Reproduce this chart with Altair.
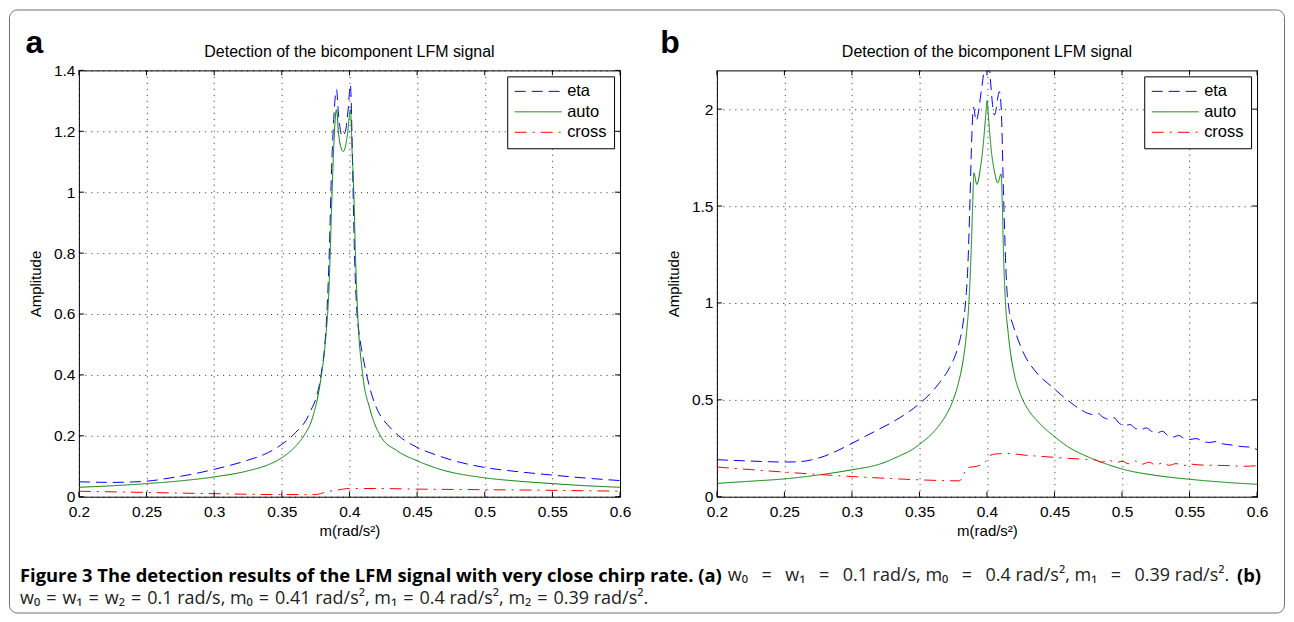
import altair as alt
import pandas as pd

# ---------------- data ----------------
SERIES = ["eta", "auto", "cross"]
COLORS = ["#0000ff", "#008000", "#ff0000"]
DASHES = [[11, 6], [1, 0], [12, 6, 2, 6]]

X_TICKS = [0.2, 0.25, 0.3, 0.35, 0.4, 0.45, 0.5, 0.55, 0.6]
A_Y_TICKS = [0, 0.2, 0.4, 0.6, 0.8, 1.0, 1.2, 1.4]
B_Y_TICKS = [0, 0.5, 1.0, 1.5, 2.0]

# panel a
a_eta_m = [0.20, 0.225, 0.25, 0.268, 0.285, 0.30, 0.3227, 0.34, 0.35, 0.36, 0.37, 0.3786, 0.3835,
           0.3852, 0.3866, 0.3885, 0.3904, 0.392, 0.3946, 0.397, 0.399, 0.4007, 0.4018, 0.4027,
           0.4037, 0.4056, 0.4069, 0.4087, 0.4115, 0.4143, 0.4192, 0.4235, 0.4278, 0.4364, 0.45,
           0.4635, 0.475, 0.50, 0.525, 0.55, 0.575, 0.60]
a_eta_v = [0.049, 0.047, 0.051, 0.062, 0.075, 0.090, 0.117, 0.145, 0.172, 0.210, 0.270, 0.390, 0.620,
           0.820, 1.050, 1.250, 1.337, 1.250, 1.184, 1.200, 1.270, 1.353, 1.200, 1.000,
           0.800, 0.600, 0.544, 0.490, 0.425, 0.370, 0.300, 0.262, 0.238, 0.200, 0.162,
           0.138, 0.121, 0.096, 0.082, 0.071, 0.061, 0.053]

a_auto_m = [0.20, 0.225, 0.25, 0.275, 0.30, 0.325, 0.34, 0.35, 0.36, 0.367, 0.372, 0.3786, 0.3820,
            0.3850, 0.3868, 0.3882, 0.3904, 0.392, 0.3935, 0.3954, 0.397, 0.3985, 0.4007, 0.4020,
            0.4032, 0.4044, 0.4061, 0.4098, 0.415, 0.4229, 0.4352, 0.45, 0.467, 0.50, 0.525,
            0.55, 0.575, 0.60]
a_auto_v = [0.031, 0.036, 0.043, 0.052, 0.065, 0.085, 0.105, 0.128, 0.165, 0.205, 0.250, 0.380, 0.500,
            0.700, 0.950, 1.130, 1.271, 1.190, 1.150, 1.134, 1.150, 1.190, 1.271, 1.130,
            1.000, 0.800, 0.600, 0.400, 0.290, 0.200, 0.151, 0.118, 0.090, 0.062, 0.051,
            0.043, 0.036, 0.031]

a_cross_m = [0.20, 0.25, 0.30, 0.35, 0.375, 0.380, 0.385, 0.39, 0.40, 0.42, 0.45, 0.50, 0.55, 0.60]
a_cross_v = [0.018, 0.014, 0.010, 0.007, 0.007, 0.012, 0.018, 0.021, 0.027, 0.027, 0.025, 0.023,
             0.021, 0.018]

# panel b
b_eta_m = [0.20, 0.225, 0.25, 0.26, 0.27, 0.28, 0.29, 0.30, 0.31, 0.32, 0.33, 0.34, 0.35, 0.3563,
           0.3649, 0.3723, 0.3784, 0.3817, 0.3841, 0.3858, 0.3871, 0.3885, 0.3900, 0.3920,
           0.3957, 0.3980, 0.4000, 0.4019, 0.4056, 0.4092, 0.4105, 0.4125, 0.4145, 0.4165,
           0.4191, 0.4216, 0.425, 0.429, 0.435, 0.44, 0.445, 0.45, 0.455, 0.46, 0.465, 0.47,
           0.478, 0.482, 0.486, 0.490, 0.494, 0.498, 0.502, 0.506, 0.510, 0.514, 0.518, 0.522,
           0.526, 0.530, 0.534, 0.538, 0.542, 0.546, 0.550, 0.555, 0.560, 0.565, 0.570, 0.575,
           0.580, 0.585, 0.590, 0.595, 0.600]
b_eta_v = [0.191, 0.184, 0.179, 0.180, 0.190, 0.210, 0.240, 0.275, 0.312, 0.348, 0.385, 0.428, 0.480,
           0.520, 0.589, 0.666, 0.769, 0.870, 1.000, 1.181, 1.450, 1.800, 2.010, 1.940,
           2.090, 2.220, 2.400, 2.210, 1.970, 2.090, 2.010, 1.500, 1.100, 0.960,
           0.890, 0.838, 0.775, 0.715, 0.655, 0.615, 0.585, 0.556, 0.525, 0.497, 0.470, 0.447,
           0.425, 0.430, 0.410, 0.400, 0.408, 0.378, 0.368, 0.372, 0.352, 0.347, 0.355, 0.337,
           0.330, 0.338, 0.315, 0.308, 0.316, 0.300, 0.295, 0.300, 0.285, 0.280, 0.285, 0.272,
           0.268, 0.262, 0.258, 0.256, 0.243]

b_auto_m = [0.20, 0.225, 0.25, 0.275, 0.30, 0.3205, 0.3353, 0.345, 0.35, 0.355, 0.36, 0.365, 0.370,
            0.375, 0.379, 0.382, 0.3845, 0.3866, 0.3883, 0.3895, 0.3903, 0.3925, 0.3950, 0.3970,
            0.3990, 0.4001, 0.4012, 0.4030, 0.4055, 0.4080, 0.4105, 0.4113, 0.4122, 0.4137,
            0.4155, 0.4171, 0.4200, 0.4253, 0.4300, 0.4388, 0.45, 0.46, 0.475, 0.49, 0.50,
            0.525, 0.55, 0.575, 0.60]
b_auto_v = [0.069, 0.080, 0.092, 0.112, 0.139, 0.168, 0.211, 0.245, 0.270, 0.298, 0.330, 0.372, 0.425,
            0.500, 0.590, 0.690, 0.820, 1.000, 1.267, 1.525, 1.671, 1.611, 1.690, 1.800,
            1.960, 2.044, 1.950, 1.800, 1.680, 1.619, 1.666, 1.525, 1.267, 1.000,
            0.860, 0.760, 0.640, 0.520, 0.455, 0.380, 0.310, 0.258, 0.205, 0.165, 0.143,
            0.110, 0.090, 0.075, 0.064]

b_cross_m = [0.20, 0.25, 0.275, 0.30, 0.325, 0.35, 0.3797, 0.383, 0.386, 0.392, 0.3994, 0.4018,
             0.4056, 0.4141, 0.429, 0.45, 0.47, 0.480, 0.485, 0.490, 0.495, 0.500, 0.505, 0.510,
             0.515, 0.520, 0.525, 0.530, 0.535, 0.540, 0.545, 0.550, 0.560, 0.570, 0.580, 0.590,
             0.600]
b_cross_v = [0.153, 0.127, 0.115, 0.104, 0.095, 0.087, 0.082, 0.120, 0.151, 0.156, 0.185, 0.210,
             0.220, 0.223, 0.214, 0.203, 0.194, 0.190, 0.178, 0.190, 0.176, 0.183, 0.170, 0.184,
             0.168, 0.178, 0.164, 0.174, 0.162, 0.171, 0.160, 0.168, 0.163, 0.162, 0.160, 0.157,
             0.160]

TITLE = "Detection of the bicomponent LFM signal"
XTITLE = "m(rad/s\u00b2)"
YTITLE = "Amplitude"
EQ1 = "\u2002\u2005=\u2002\u2005"
EQ2 = "\u2004=\u2004"
CAP_BOLD = "Figure 3 The detection results of the LFM signal with very close chirp rate. (a)"
CAP_A = ("w\u2080" + EQ1 + "w\u2081" + EQ1 + "0.1 rad/s, m\u2080" + EQ1 + "0.4 rad/s\u00b2, m\u2081"
         + EQ1 + "0.39 rad/s\u00b2.")
CAP_B_LABEL = "(b)"
CAP_LINE2 = ("w\u2080" + EQ2 + "w\u2081" + EQ2 + "w\u2082" + EQ2 + "0.1 rad/s, m\u2080" + EQ2
             + "0.41 rad/s\u00b2, m\u2081" + EQ2 + "0.4 rad/s\u00b2, m\u2082" + EQ2 + "0.39 rad/s\u00b2.")


def frame(pairs):
    rows = []
    for name, xs, ys in pairs:
        for m, v in zip(xs, ys):
            rows.append({"series": name, "m": m, "amp": v})
    return pd.DataFrame(rows)


df_a = frame([("eta", a_eta_m, a_eta_v), ("auto", a_auto_m, a_auto_v), ("cross", a_cross_m, a_cross_v)])
df_b = frame([("eta", b_eta_m, b_eta_v), ("auto", b_auto_m, b_auto_v), ("cross", b_cross_m, b_cross_v)])

FONT = "Liberation Sans, Arial, Helvetica, sans-serif"
CAP_FONT = "Open Sans, sans-serif"
W_A, W_B, H = 542, 541, 427
ONE = pd.DataFrame({"k": [0]})


def deco_text(txt, x, y, size, weight="normal", font=FONT, align="left", baseline="alphabetic", color="black"):
    return alt.Chart(ONE).mark_text(
        text=txt, font=font, fontSize=size, fontWeight=weight, align=align,
        baseline=baseline, color=color
    ).encode(x=alt.value(x), y=alt.value(y))


def panel(df, yticks, ydom, width, below, above):
    xenc = alt.X("m:Q", scale=alt.Scale(domain=[0.2, 0.6], nice=False, zero=False),
                 axis=alt.Axis(values=X_TICKS, format=".2~f", title=XTITLE))
    yenc = alt.Y("amp:Q", scale=alt.Scale(domain=ydom, nice=False, zero=True),
                 axis=alt.Axis(values=yticks, format=".1~f", title=YTITLE))
    leg = alt.Legend(title=None)
    lines = alt.Chart(df).mark_line(strokeWidth=1, clip=True, interpolate="monotone").encode(
        x=xenc, y=yenc,
        color=alt.Color("series:N", scale=alt.Scale(domain=SERIES, range=COLORS), legend=leg),
        strokeDash=alt.StrokeDash("series:N", scale=alt.Scale(domain=SERIES, range=DASHES), legend=leg),
    )
    xt = pd.DataFrame({"m": X_TICKS})
    yt = pd.DataFrame({"amp": yticks})
    tk = dict(color="black", strokeWidth=1)
    bt = alt.Chart(xt).mark_rule(**tk).encode(x=xenc, y=alt.value(H), y2=alt.value(H - 5))
    tt = alt.Chart(xt).mark_rule(**tk).encode(x=xenc, y=alt.value(0), y2=alt.value(5))
    lt = alt.Chart(yt).mark_rule(**tk).encode(y=yenc, x=alt.value(0), x2=alt.value(5))
    rt = alt.Chart(yt).mark_rule(**tk).encode(y=yenc, x=alt.value(width - 5), x2=alt.value(width))
    return alt.layer(*below, lines, bt, tt, lt, rt, *above).properties(width=width, height=H)


border = alt.Chart(ONE).mark_rect(filled=False, stroke="#6f6f6f", strokeWidth=1, cornerRadius=8).encode(
    x=alt.value(-69.5), x2=alt.value(1207.5), y=alt.value(-60.5), y2=alt.value(543.5)
)

CAP_SIZE = 18
above_a = [
    deco_text("a", -44.5, -17, 32, weight="bold", align="center"),
    deco_text(TITLE, W_A / 2, -13, 16, align="center"),
    deco_text(CAP_BOLD, -59, 506, 18.4, weight="bold", font=CAP_FONT, baseline="middle"),
    deco_text(CAP_A, 650, 506, CAP_SIZE, font=CAP_FONT, baseline="middle", color="#222"),
    deco_text(CAP_B_LABEL, 1184, 506, 18.4, weight="bold", font=CAP_FONT, align="right",
              baseline="middle"),
    deco_text(CAP_LINE2, -59, 529, CAP_SIZE, font=CAP_FONT, baseline="middle", color="#222"),
]
above_b = [
    deco_text("b", -47, -17, 32, weight="bold", align="center"),
    deco_text(TITLE, W_B / 2, -13, 16, align="center"),
]

pa = panel(df_a, A_Y_TICKS, [0, 1.4], W_A, [border], above_a)
pb = panel(df_b, B_Y_TICKS, [0, 2.2], W_B, [], above_b)

chart = alt.hconcat(pa, pb, spacing=97, bounds="flush", padding=0).resolve_scale(
    x="independent", y="independent", color="independent", strokeDash="independent"
).configure_view(
    stroke="black", strokeWidth=1
).configure_axis(
    labelFont=FONT, labelFontSize=15.5, labelColor="black", labelFlush=False, labelOverlap=False,
    titleFont=FONT, titleFontSize=15, titleFontWeight="normal", titleColor="black",
    ticks=False, domain=False, grid=True, gridColor="#000", gridDash=[1, 5], gridOpacity=0.85,
    gridWidth=1,
).configure_axisX(
    labelPadding=8, titlePadding=3
).configure_axisY(
    labelPadding=4, titlePadding=10
).configure_legend(
    orient="top-right", offset=6, padding=7, strokeColor="black", fillColor="white",
    cornerRadius=0, labelFont=FONT, labelFontSize=16.5, labelColor="black", labelOffset=5,
    symbolType="stroke", symbolSize=2209, symbolStrokeWidth=1, clipHeight=16, rowPadding=3.5,
)

chart.save("out.html", embed_options={"renderer": "svg", "actions": False})
